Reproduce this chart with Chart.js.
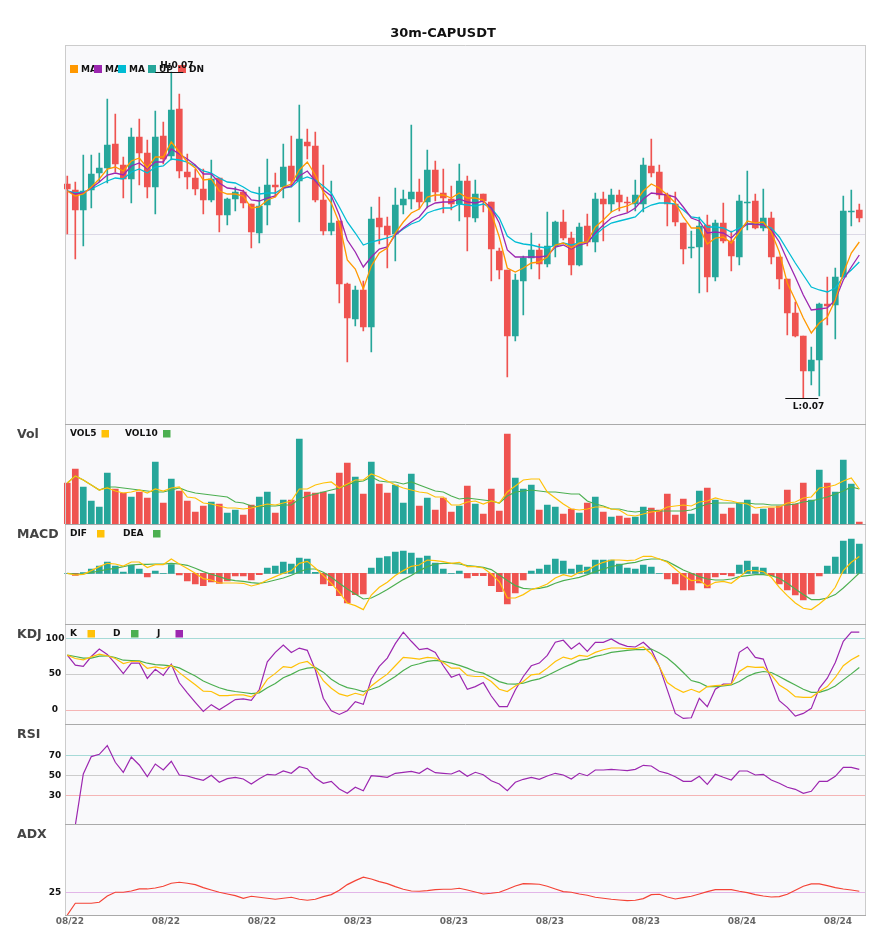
<!DOCTYPE html>
<html>
<head>
<meta charset="utf-8">
<title>30m-CAPUSDT</title>
<script src="https://cdn.jsdelivr.net/npm/chart.js@4.4.1/dist/chart.umd.min.js"></script>
<style>
  html, body { margin: 0; padding: 0; background: #fff; }
  #wrap { position: relative; width: 885px; height: 950px; }
  #wrap canvas { position: absolute; left: 0; }
</style>
</head>
<body>
<div id="wrap">
  <canvas id="mainChart" width="885" height="424" style="top:0px"></canvas>
  <canvas id="volChart" width="885" height="100" style="top:424px"></canvas>
  <canvas id="macdChart" width="885" height="100" style="top:524px"></canvas>
  <canvas id="kdjChart" width="885" height="100" style="top:624px"></canvas>
  <canvas id="rsiChart" width="885" height="100" style="top:724px"></canvas>
  <canvas id="adxChart" width="885" height="126" style="top:824px"></canvas>
</div>
<script>
const chartTitle = "30m-CAPUSDT";

// 100 half-hour candles (price in chart units, no axis shown in the source)
const openP = [
  236,230,210,230,247,252,276,255,241,283,
  267,233,284,264,311,248,242,231,220,242,
  205,221,228,216,187,215,235,233,254,239,
  278,274,220,189,199,136,101,130,93,202,
  194,186,215,221,228,218,250,227,221,216,
  239,202,226,218,169,150,84,139,162,170,
  156,174,198,182,155,194,178,221,216,225,
  218,216,216,254,248,225,216,197,172,173,
  195,143,197,179,163,217,219,192,202,163,
  141,107,84,49,60,116,115,143,208,210
];
const highP = [
  244,238,265,265,267,321,306,263,292,301,
  280,309,298,348,326,266,251,251,260,242,
  222,233,230,216,233,261,247,276,284,315,
  291,288,255,239,199,137,134,139,213,223,
  203,232,230,295,241,270,259,251,234,256,
  244,240,226,218,172,150,146,164,187,176,
  208,199,210,188,197,206,227,228,231,230,
  223,240,262,281,255,227,228,197,189,203,
  205,200,217,189,225,249,226,231,208,163,
  141,118,84,73,117,143,152,224,230,216
];
const lowP = [
  186,161,174,212,238,237,248,222,217,235,
  222,206,256,260,242,231,225,206,218,188,
  195,209,212,172,177,195,223,222,233,198,
  261,218,185,185,117,58,94,89,68,176,
  152,159,206,211,211,212,219,207,210,199,
  169,198,208,139,141,43,79,105,151,141,
  153,163,180,145,154,174,168,179,208,209,
  208,209,208,243,221,194,194,156,162,127,
  128,139,177,149,155,190,191,189,156,131,
  85,83,22,35,24,95,81,143,194,198
];
const closeP = [
  231,210,229,246,252,275,256,241,283,267,
  233,283,261,310,249,243,231,220,241,205,
  221,228,217,188,214,235,233,253,239,281,
  274,220,189,197,136,102,130,93,201,193,
  185,215,221,228,218,250,228,222,216,239,
  203,226,219,171,150,84,140,162,170,156,
  174,198,182,155,193,178,221,216,225,218,
  217,225,255,247,225,216,198,171,173,194,
  143,197,179,164,219,218,192,202,163,141,
  107,84,49,60,116,114,143,209,209,202
];
const ma5 = [
  229,224,226,233,241,251,253,249,259,262,
  252,263,263,278,268,258,252,240,241,229,
  226,226,224,212,213,220,223,233,236,250,
  258,245,228,217,197,160,151,131,154,167,
  172,187,198,207,211,223,225,225,222,227,
  222,222,220,207,183,152,148,152,157,158,
  163,175,177,172,177,178,193,200,208,212,
  214,218,229,236,232,225,217,203,192,192,
  176,182,183,177,188,199,197,198,188,168,
  137,120,102,87,97,103,120,147,167,178
];
const ma10 = [
  229,226,227,232,238,245,247,245,254,257,
  251,258,258,271,266,261,255,246,246,237,
  232,231,229,220,219,222,224,232,234,244,
  249,239,230,224,205,180,168,153,163,171,
  173,185,192,198,203,213,217,218,218,221,
  218,217,219,212,197,170,163,163,163,163,
  164,173,175,171,175,177,187,195,202,205,
  207,212,221,227,226,225,223,213,202,199,
  187,188,187,182,190,196,196,195,190,178,
  160,143,125,110,111,112,120,140,153,165
];
const ma20 = [
  229,227,228,231,235,239,242,241,248,251,
  247,253,254,261,260,258,254,249,247,242,
  238,237,233,228,226,227,227,232,233,240,
  243,240,234,227,213,198,187,175,178,180,
  182,185,191,196,199,207,210,212,212,216,
  215,214,216,212,202,184,178,176,175,173,
  172,175,177,175,177,178,185,192,197,199,
  201,203,211,215,217,217,216,210,203,202,
  193,193,192,188,192,196,196,195,192,183,
  170,157,145,133,130,128,132,143,150,158
];
const priceRef = 186;
const hiLabel = "H:0.07";
const loLabel = "L:0.07";

const volume = [
  41,55,37,23,17,51,35,31,27,32,
  26,62,21,45,33,23,12,18,22,20,
  11,14,9,19,27,32,11,24,24,85,
  32,31,32,30,51,61,47,30,62,40,
  31,39,21,50,18,26,14,26,12,18,
  38,20,10,35,13,90,46,35,39,14,
  19,17,10,15,11,21,27,12,7,8,
  6,7,17,16,14,30,9,25,10,33,
  36,24,10,16,21,24,10,15,16,18,
  34,20,41,24,54,41,32,64,40,2
];
const vol5 = [
  41,48,44,39,34,36,33,31,32,34,
  31,35,33,36,37,27,26,21,20,18,
  16,16,15,16,18,20,19,21,23,35,
  35,39,41,42,36,40,44,44,50,47,
  43,39,36,34,32,31,27,27,19,19,
  22,23,20,23,21,32,38,44,45,45,
  32,26,20,15,14,15,17,17,15,14,
  9,8,10,12,13,17,18,19,18,22,
  23,26,24,23,21,20,16,17,17,17,
  21,22,26,27,36,37,39,43,46,35
];
const vol10 = [
  41,48,44,39,34,37,37,36,35,34,
  33,32,32,34,36,33,31,30,29,28,
  27,22,21,18,17,18,18,19,19,25,
  28,30,32,34,36,39,42,43,47,43,
  42,42,40,42,39,36,33,32,28,25,
  26,25,24,23,21,28,32,33,34,33,
  32,32,31,30,30,23,20,18,15,15,
  13,12,13,14,13,13,13,13,14,17,
  20,21,21,21,21,21,20,20,19,19,
  19,20,22,23,25,27,30,33,37,35
];

const macdDif = [
  0,-1.7,-1,2.7,6.7,10,9.3,7.3,11.3,11.3,
  5.7,8.7,8.7,14.3,9.3,4.7,0,-5.3,-6.7,-9.7,
  -9.7,-9.7,-10,-12.7,-10.7,-6.7,-3.3,0,2.7,10,
  12,5.3,-2.3,-10,-19,-29.7,-32.3,-36.3,-21.7,-14,
  -9,-2.3,2.7,7,8.3,13.3,12.7,11.7,10,11,
  6.7,6.7,5.3,-0.7,-8.3,-24.7,-24.7,-21.3,-16.3,-14,
  -10.7,-4.7,-1.3,-3.3,1,2.7,7.7,11,13.3,13.3,
  12.7,13.3,17,17,14.3,11,4.3,-2.3,-7.3,-6.7,
  -13,-9,-8,-10,-4,2.7,2.7,1.7,-4,-14,
  -22.3,-29.7,-35,-36.3,-30.7,-24,-14,2.7,11,16.7
];
const macdDea = [
  0,-0.7,-0.7,0.7,2.3,4,5,6.7,8.3,9,
  9,9.3,9.3,10,9.3,8,5,1.7,-1,-3.3,
  -6,-7.3,-8,-9.3,-10,-8.7,-6.7,-4.7,-2,1.5,
  4.3,4.3,1,-4,-10,-15.7,-20.7,-25.7,-24.7,-20.7,
  -16.3,-11.3,-6.3,-2.3,2.7,6.7,9.3,10,10,9.3,
  7.7,7,6,3.7,-1.7,-7.3,-12.3,-15,-15.7,-15,
  -13.3,-10,-7.3,-5.7,-4,-1.3,1.7,4.3,6.7,8.3,
  10,11,13.3,14.3,14.3,12,7.7,3.3,0,-3.3,
  -5.7,-6.7,-6.7,-5.7,-3.3,-2.3,-1.3,-1.3,-2.3,-5,
  -10,-15.7,-21.3,-26.3,-26.3,-24.7,-21.3,-14.7,-7.3,0.3
];
const macdHist = [
  0,-2,0.7,4.3,7.3,11.3,7.3,1.3,8.3,4.3,
  -3.7,2.3,0,8.7,-1.7,-7.7,-10.7,-12.3,-8.7,-10,
  -7.7,-2.7,-2.7,-6.7,-1.3,5.3,7.3,11.3,9.3,15.3,
  14.3,1,-10.7,-12.3,-22.3,-29.7,-21.3,-20.7,5.3,15.3,
  16.7,21.3,22.3,20.3,15.3,17.3,10.3,4.3,0,2.3,
  -4.7,-2.3,-2.3,-12.3,-18.3,-30.7,-19.7,-6.7,2.3,4.3,
  8.3,14.3,12.3,4.3,8.3,6.3,13.3,13.3,13.3,9.3,
  5.3,4.3,8.3,6.3,0,-5.7,-10.7,-16.7,-16.7,-9.7,
  -14.7,-3.7,-1.3,-2.7,8.3,12.3,6.3,5.3,-2.3,-10.7,
  -16.7,-21.7,-26.7,-20.7,-2.7,7.3,16.3,32.3,34.3,29.3
];

const kdjK = [
  76.4,71.7,69.8,74,77.8,75.5,71.7,64.6,67.5,67.5,
  58,59.9,57.5,62.3,51.9,43.4,34.9,25.9,25.5,19.8,
  19.8,20.8,20.8,17.9,25.9,42.5,50.9,60.4,59,65.1,
  67.6,58.2,40.8,30,22.1,19.2,23,20.2,33.3,41.8,
  49.8,61.5,73.2,72.3,70.9,73.2,72.3,66.2,58.2,58.2,
  47.9,46.5,46.5,39.4,28.6,25.4,33.3,39.4,48.8,50.2,
  58.2,67.6,73.7,70.9,76.1,74.6,80.3,84,86.4,86.4,
  85.4,85.4,87.8,78.4,60.6,38,30,24.4,28.6,24.4,
  32.4,33.8,34.3,35.7,53.5,60.6,59.2,59.6,48.8,34.7,
  27.7,18.3,17.4,17.4,25.4,32.4,45.1,61.5,70,76.1
];
const kdjD = [
  76.4,74.5,72.2,72.2,75,75.5,73.1,69.3,68.9,68.4,
  65.1,63.2,62.3,61.3,58.5,52.8,47.2,40.1,35.4,30.7,
  27.4,25.5,24.1,22.6,23.6,30.7,36.8,44.8,49.5,55.2,
  58.2,59.2,52.6,42.7,35.7,31,28.6,25.4,28.6,32.4,
  39.4,46.5,54.9,61.5,64.3,67.6,69,67.6,65.3,62,
  58.2,53.5,51.2,45.5,39.4,36.2,35.7,37.1,40.8,43.2,
  47.9,53.5,59.2,63.8,69,70.9,74.6,77,80.3,81.7,
  83.1,84,84,85,79.3,72.3,62.9,52.1,40.8,38,
  32.4,32.4,33.3,34.7,39.4,46.5,51.2,53.5,52.1,46.5,
  40.4,34.7,28.6,24.4,24.4,27.7,33.3,41.8,50.2,59.2
];
const kdjJ = [
  76.4,62.3,60.8,74.5,84.9,77.4,64.6,50.5,65.1,65.1,
  43.9,56.6,48.1,63.7,37.7,23.6,10.4,-2.4,7.1,0,
  7.1,14.2,15.1,13.2,28.3,67,80.2,90.6,80.2,86.3,
  83.1,55.9,16,-1.4,-6.6,-1.4,11.3,7.5,42.7,60.6,
  72.3,92.5,108.5,95.8,84,85.9,80.3,61.5,45.5,49.8,
  28.6,32.4,38,19.2,4.2,4.2,27.7,46.5,61.5,65.3,
  76.1,94.4,97.2,85,93.4,81.7,94.4,94.4,99,92.5,
  88.7,87.8,94.4,84,60.6,27.7,-5.2,-12.2,-11.3,16,
  4.2,28.6,35.7,36.2,80.3,87.8,73.2,70.9,41.8,12.7,
  3.3,-8.9,-5.2,1.9,30,44.1,66.2,95.8,108.5,108.5
];

const rsi = [
  null,0,51.3,68.7,71,79.7,63,53,68.3,60.3,
  48.6,61.3,55.3,64,50.3,49.3,47,45,50,43,
  46.6,48,46.3,41.3,46.6,51,50.3,54.3,52,58.6,
  56.6,47.3,42,44,36.3,32,38,34.6,49.6,49,
  48,52,53,54,52,57,52.6,52,51.3,54.6,
  49,53,50.6,44.6,41.3,34.6,43,46,48,46,
  49.3,52,50.3,46.3,52,49.6,55.3,55.3,56,55.3,
  54.6,56,60,59.3,54,52,48.6,44,44,49,
  41,51,48,45.3,54.3,54.3,50.3,51,45.3,42,
  38,36,32,34,44,44,49,58,58,56
];
const adx = [
  0,12.9,12.9,12.9,14,20.9,25,25,26.4,28.6,
  28.6,29.7,31.6,34.9,36,34.9,33.4,30.1,27.5,25,
  23.1,21.3,18.4,20.6,19.5,18.4,17.3,18.4,19.5,17.3,
  16.2,17.3,20.2,22.4,27.2,33.4,37.8,41.5,39.6,36.7,
  34.5,31.2,28.3,26.4,26.1,26.8,27.9,28.3,28.3,29.4,
  27.5,25.3,23.1,23.9,25,28.3,31.9,34.5,34.1,33.8,
  31.6,28.6,25.7,25,23.1,21.7,19.5,18.4,17.3,16.5,
  15.8,16.2,18,22.4,22.8,19.8,17.6,19.1,20.6,23.1,
  25.7,27.9,27.9,27.9,26.1,24.6,22.4,20.9,19.8,20.2,
  22.8,27.2,31.6,34.1,34.1,32.3,30.1,28.6,27.5,26.1
];

const xTickIdx = [0, 12, 24, 36, 48, 60, 72, 84, 96];
const xTickText = ["08/22","08/22","08/22","08/23","08/23","08/23","08/23","08/24","08/24"];

const cats = closeP.map((_, i) => i);

Chart.defaults.font.family = '"DejaVu Sans", "Liberation Sans", sans-serif';

const PX0 = 65, PX1 = 865;
const UP = "#26a69a", DOWN = "#ef5350";
const YELLOW = "#ffc107", GREEN = "#4caf50", PURPLE = "#9c27b0";
const candleColors = closeP.map((c, i) => c >= openP[i] ? UP : DOWN);

// background, reference lines, borders, labels, legends for one panel
function panelPlugin(cfg) {
  return {
    id: "panel",
    beforeDatasetsDraw(chart) {
      const { ctx, chartArea: a } = chart;
      const y = chart.scales.y;
      ctx.save();
      ctx.fillStyle = "#f9f9fb";
      ctx.fillRect(PX0, a.top, PX1 - PX0, a.bottom - a.top);
      (cfg.refs || []).forEach(r => {
        const py = Math.round(y.getPixelForValue(r.v)) + 0.5;
        ctx.strokeStyle = r.color;
        ctx.lineWidth = 1;
        ctx.beginPath();
        ctx.moveTo(PX0, py);
        ctx.lineTo(PX1, py);
        ctx.stroke();
      });
      ctx.restore();
    },
    afterDraw(chart) {
      const { ctx, chartArea: a } = chart;
      const y = chart.scales.y;
      ctx.save();
      ctx.lineWidth = 1;
      ctx.strokeStyle = "#cccccc";
      ctx.beginPath();
      ctx.moveTo(PX0 + 0.5, a.top); ctx.lineTo(PX0 + 0.5, a.bottom);
      ctx.moveTo(PX1 + 0.5, a.top); ctx.lineTo(PX1 + 0.5, a.bottom);
      ctx.stroke();
      ctx.strokeStyle = cfg.topColor || "#aaaaaa";
      ctx.beginPath();
      ctx.moveTo(PX0, a.top + 0.5); ctx.lineTo(PX1 + 1, a.top + 0.5);
      ctx.stroke();
      if (cfg.bottomLine) {
        ctx.strokeStyle = "#aaaaaa";
        ctx.beginPath();
        ctx.moveTo(PX0, a.bottom + 0.5); ctx.lineTo(PX1 + 1, a.bottom + 0.5);
        ctx.stroke();
      }

      if (cfg.title) {
        ctx.font = 'bold 12.5px "DejaVu Sans"';
        ctx.fillStyle = "#444444";
        ctx.textAlign = "left";
        ctx.textBaseline = "middle";
        ctx.fillText(cfg.title, 17, a.top + 11);
      }

      ctx.font = 'bold 9px "DejaVu Sans"';
      ctx.fillStyle = "#111111";
      ctx.textAlign = "center";
      ctx.textBaseline = "middle";
      (cfg.ticks || []).forEach(t => {
        ctx.fillText(String(t), 55, y.getPixelForValue(t));
      });

      (cfg.legend || []).forEach(l => {
        ctx.fillStyle = "#111111";
        ctx.textAlign = "left";
        ctx.fillText(l.text, l.tx, a.top + 10);
        ctx.fillStyle = l.color;
        ctx.fillRect(l.bx, a.top + 6, 7.5, 7.5);
      });
      ctx.restore();
      if (cfg.extra) cfg.extra(chart);
    }
  };
}

function baseOptions(yMin, yMax, padTop, padBottom) {
  return {
    responsive: false,
    animation: false,
    events: [],
    layout: { padding: { left: 63.3, right: 21.7, top: padTop, bottom: padBottom } },
    plugins: { legend: { display: false }, tooltip: { enabled: false } },
    scales: {
      x: { type: "category", offset: true, display: false, grid: { display: false } },
      y: { min: yMin, max: yMax, display: false, grid: { display: false } }
    }
  };
}

function lineSet(data, color, width) {
  return {
    type: "line", data: data, borderColor: color, backgroundColor: color,
    borderWidth: width || 1.2, pointRadius: 0, fill: false, tension: 0, order: 0
  };
}

// price panel
new Chart(document.getElementById("mainChart"), {
  type: "bar",
  data: {
    labels: cats,
    datasets: [
      lineSet(ma5, "#ff9800", 1.3),
      lineSet(ma10, PURPLE, 1.3),
      lineSet(ma20, "#00bcd4", 1.3),
      {
        data: openP.map((o, i) => [o, closeP[i]]),
        backgroundColor: candleColors, barThickness: 6, minBarLength: 1,
        grouped: false, order: 1
      },
      {
        data: lowP.map((l, i) => [l, highP[i]]),
        backgroundColor: candleColors, barThickness: 1,
        grouped: false, order: 2
      }
    ]
  },
  options: baseOptions(-4, 375, 45, 0),
  plugins: [panelPlugin({
    topColor: "#cccccc",
    refs: [{ v: priceRef, color: "#dcd9e6" }],
    extra(chart) {
      const { ctx } = chart;
      const x = chart.scales.x, y = chart.scales.y;
      ctx.save();
      ctx.font = 'bold 13px "DejaVu Sans"';
      ctx.fillStyle = "#111111";
      ctx.textAlign = "center";
      ctx.textBaseline = "middle";
      ctx.fillText(chartTitle, 443, 34);

      const items = [
        { text: "MA", color: "#ff9800", x: 70 },
        { text: "MA", color: PURPLE, x: 94 },
        { text: "MA", color: "#00bcd4", x: 118 },
        { text: "UP", color: UP, x: 148 },
        { text: "DN", color: DOWN, x: 178 }
      ];
      ctx.font = 'bold 9px "DejaVu Sans"';
      ctx.textAlign = "left";
      items.forEach(it => {
        ctx.fillStyle = it.color;
        ctx.fillRect(it.x, 65, 8, 8);
        ctx.fillStyle = "#111111";
        ctx.fillText(it.text, it.x + 11, 69.5);
      });

      const hi = highP.indexOf(Math.max(...highP));
      const lo = lowP.indexOf(Math.min(...lowP));
      const hx = x.getPixelForValue(hi), hy = Math.round(y.getPixelForValue(highP[hi])) + 0.5;
      const lx = x.getPixelForValue(lo), ly = Math.round(y.getPixelForValue(lowP[lo])) + 0.5;
      ctx.strokeStyle = "#111111";
      ctx.lineWidth = 1;
      ctx.beginPath();
      ctx.moveTo(hx - 16, hy); ctx.lineTo(hx + 12, hy);
      ctx.moveTo(lx - 18, ly); ctx.lineTo(lx + 15, ly);
      ctx.stroke();
      ctx.fillStyle = "#111111";
      ctx.fillText(hiLabel, hx - 11, hy - 7);
      ctx.fillText(loLabel, lx - 10.5, ly + 8.5);
      ctx.restore();
    }
  })]
});

// volume panel
new Chart(document.getElementById("volChart"), {
  type: "bar",
  data: {
    labels: cats,
    datasets: [
      lineSet(vol5, YELLOW),
      lineSet(vol10, GREEN),
      { data: volume, backgroundColor: candleColors, barThickness: 6, grouped: false, order: 1 }
    ]
  },
  options: baseOptions(0, 100, 0, 0),
  plugins: [panelPlugin({
    title: "Vol",
    legend: [
      { text: "VOL5", tx: 70, bx: 101.5, color: YELLOW },
      { text: "VOL10", tx: 125, bx: 163, color: GREEN }
    ]
  })]
});

// MACD panel
new Chart(document.getElementById("macdChart"), {
  type: "bar",
  data: {
    labels: cats,
    datasets: [
      lineSet(macdDif, YELLOW),
      lineSet(macdDea, GREEN),
      {
        data: macdHist, backgroundColor: macdHist.map(v => v >= 0 ? UP : DOWN),
        barThickness: 6, grouped: false, order: 1
      }
    ]
  },
  options: baseOptions(-50.7, 49.3, 0, 0),
  plugins: [panelPlugin({
    title: "MACD",
    refs: [{ v: 0, color: "#d0d0d0" }],
    legend: [
      { text: "DIF", tx: 70, bx: 97, color: YELLOW },
      { text: "DEA", tx: 123, bx: 153, color: GREEN }
    ]
  })]
});

// KDJ panel
new Chart(document.getElementById("kdjChart"), {
  type: "line",
  data: {
    labels: cats,
    datasets: [lineSet(kdjK, YELLOW), lineSet(kdjD, GREEN), lineSet(kdjJ, PURPLE)]
  },
  options: baseOptions(-20, 120, 0, 0),
  plugins: [panelPlugin({
    title: "KDJ",
    refs: [{ v: 100, color: "#a6dad7" }, { v: 50, color: "#cccccc" }, { v: 0, color: "#f5b5b5" }],
    ticks: [100, 50, 0],
    legend: [
      { text: "K", tx: 70, bx: 87.5, color: YELLOW },
      { text: "D", tx: 113, bx: 131, color: GREEN },
      { text: "J", tx: 157, bx: 175.5, color: PURPLE }
    ]
  })]
});

// RSI panel
new Chart(document.getElementById("rsiChart"), {
  type: "line",
  data: { labels: cats, datasets: [lineSet(rsi, PURPLE)] },
  options: baseOptions(1.3, 101.3, 0, 0),
  plugins: [panelPlugin({
    title: "RSI",
    refs: [{ v: 70, color: "#a6dad7" }, { v: 50, color: "#cccccc" }, { v: 30, color: "#f5b5b5" }],
    ticks: [70, 50, 30]
  })]
});

// ADX panel with the date axis
new Chart(document.getElementById("adxChart"), {
  type: "line",
  data: { labels: cats, datasets: [lineSet(adx, "#f44336")] },
  options: baseOptions(0, 100, 0, 35),
  plugins: [panelPlugin({
    title: "ADX",
    refs: [{ v: 25, color: "#e2b6e8" }],
    ticks: [25],
    bottomLine: true,
    extra(chart) {
      const { ctx, chartArea: a } = chart;
      const x = chart.scales.x;
      ctx.save();
      ctx.font = 'bold 9px "DejaVu Sans"';
      ctx.fillStyle = "#666666";
      ctx.textAlign = "center";
      ctx.textBaseline = "middle";
      xTickIdx.forEach((idx, k) => {
        ctx.fillText(xTickText[k], x.getPixelForValue(idx) + 2.5, a.bottom + 7);
      });
      ctx.restore();
    }
  })]
});
</script>
</body>
</html>
